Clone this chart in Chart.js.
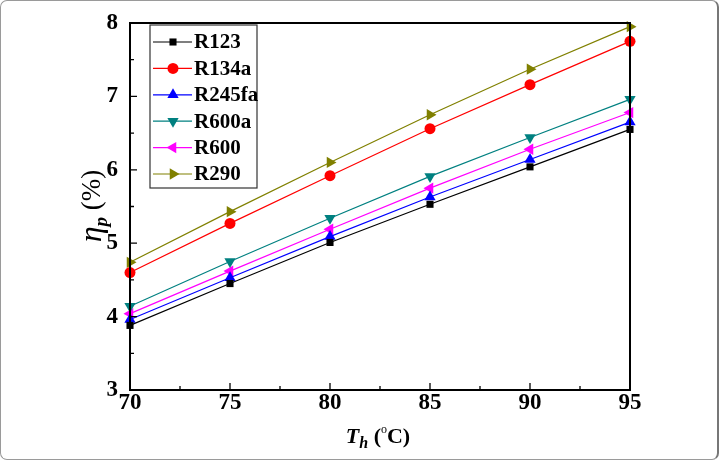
<!DOCTYPE html>
<html>
<head>
<meta charset="utf-8">
<script src="https://cdn.jsdelivr.net/npm/chart.js@4.4.1/dist/chart.umd.min.js"></script>
<style>
  html, body { margin: 0; padding: 0; background: #fff; }
  #frame {
    width: 719px; height: 460px; box-sizing: border-box;
    border: 1px solid #9a9a9a; border-right: 2px solid #777; border-radius: 7px;
    position: relative; overflow: hidden;
  }
  #chart { position: absolute; left: -1px; top: -1px; }
</style>
</head>
<body>
<div id="frame"><canvas id="chart" width="719" height="460"></canvas></div>
<script>
  // Temperature of heat source (°C)
  const temps = [70, 75, 80, 85, 90, 95];

  // eta_p (%) per working fluid
  const r123   = [3.88, 4.45, 5.01, 5.53, 6.04, 6.55];
  const r134a  = [4.60, 5.27, 5.92, 6.56, 7.16, 7.75];
  const r245fa = [3.96, 4.53, 5.09, 5.63, 6.14, 6.65];
  const r600a  = [4.14, 4.75, 5.34, 5.91, 6.44, 6.96];
  const r600   = [4.04, 4.62, 5.19, 5.75, 6.28, 6.78];
  const r290   = [4.74, 5.43, 6.10, 6.75, 7.37, 7.95];

  const seriesNames = ['R123', 'R134a', 'R245fa', 'R600a', 'R600', 'R290'];
  const seriesData = [r123, r134a, r245fa, r600a, r600, r290];
  const seriesColors = ['#000000', '#ff0000', '#0000ff', '#008080', '#ff00ff', '#808000'];
  const seriesStyles = ['rect', 'circle', 'triangle', 'triangle', 'triangle', 'triangle'];
  const seriesRotation = [0, 0, 0, 180, 270, 90];

  const xTicks = [70, 75, 80, 85, 90, 95];
  const yTicks = [3, 4, 5, 6, 7, 8];

  const serif = '"Liberation Serif", "DejaVu Serif", serif';

  function markerRadius(style) {
    if (style === 'rect') return 5;
    if (style === 'circle') return 5.5;
    return 6.5;
  }

  const datasets = seriesNames.map(function(name, i) {
    return {
      label: name,
      data: temps.map(function(t, j) { return { x: t, y: seriesData[i][j] }; }),
      borderColor: seriesColors[i],
      backgroundColor: seriesColors[i],
      borderWidth: 1.2,
      pointStyle: seriesStyles[i],
      pointRotation: seriesRotation[i],
      pointRadius: markerRadius(seriesStyles[i]),
      pointBorderWidth: 0,
      tension: 0,
      clip: false
    };
  });

  // inward ticks, top/right frame, axis titles and inset legend
  const decorations = {
    id: 'decorations',
    afterDraw(chart) {
      const ctx = chart.ctx;
      const a = chart.chartArea;
      const xs = chart.scales.x, ys = chart.scales.y;
      ctx.save();
      ctx.strokeStyle = '#000';
      ctx.lineWidth = 2;
      ctx.strokeRect(a.left, a.top, a.right - a.left, a.bottom - a.top);

      ctx.lineWidth = 1.3;
      ctx.beginPath();
      for (let v = 70; v <= 95; v += 2.5) {
        const px = xs.getPixelForValue(v);
        const len = (v % 5 === 0) ? 7 : 4;
        ctx.moveTo(px, a.bottom);
        ctx.lineTo(px, a.bottom - len);
      }
      for (let v = 3; v <= 8; v += 0.5) {
        const py = ys.getPixelForValue(v);
        const len = (v % 1 === 0) ? 7 : 4;
        ctx.moveTo(a.left, py);
        ctx.lineTo(a.left + len, py);
      }
      ctx.stroke();

      // x title: T_h (°C)
      ctx.fillStyle = '#000';
      ctx.textBaseline = 'alphabetic';
      const cx = (a.left + a.right) / 2;
      const by = 443;
      ctx.font = 'italic bold 22px ' + serif;
      const wT = ctx.measureText('T').width;
      ctx.font = 'italic bold 16px ' + serif;
      const wh = ctx.measureText('h').width;
      ctx.font = 'bold 22px ' + serif;
      const wRest = ctx.measureText(' (C)').width;
      ctx.font = '12px ' + serif;
      const wdeg = ctx.measureText('o').width;
      let x0 = cx - (wT + wh + wRest + wdeg) / 2 - 2;
      ctx.font = 'italic bold 22px ' + serif;
      ctx.fillText('T', x0, by); x0 += wT;
      ctx.font = 'italic bold 16px ' + serif;
      ctx.fillText('h', x0, by + 5); x0 += wh;
      ctx.font = 'bold 22px ' + serif;
      ctx.fillText(' (', x0, by); x0 += ctx.measureText(' (').width;
      ctx.font = '12px ' + serif;
      ctx.fillText('o', x0, by - 10); x0 += wdeg;
      ctx.font = 'bold 22px ' + serif;
      ctx.fillText('C)', x0, by);

      // y title: eta_p (%)
      ctx.save();
      ctx.translate(101, 206);
      ctx.rotate(-Math.PI / 2);
      ctx.font = 'italic 32px ' + serif;
      const wEta = ctx.measureText('η').width;
      ctx.font = 'italic bold 19px ' + serif;
      const wp = ctx.measureText('p').width;
      ctx.font = '27px ' + serif;
      const wPct = ctx.measureText(' (%)').width;
      let y0 = -(wEta + wp + wPct) / 2;
      ctx.font = 'italic 32px ' + serif;
      ctx.fillText('η', y0, 0); y0 += wEta;
      ctx.font = 'italic bold 19px ' + serif;
      ctx.fillText('p', y0, 6); y0 += wp;
      ctx.font = '27px ' + serif;
      ctx.fillText(' (%)', y0, -1);
      ctx.restore();

      // legend box
      const lx = 150, ly = 25, lw = 107, lh = 163;
      ctx.fillStyle = '#fff';
      ctx.fillRect(lx, ly, lw, lh);
      ctx.strokeStyle = '#333';
      ctx.lineWidth = 1.2;
      ctx.strokeRect(lx, ly, lw, lh);
      ctx.font = 'bold 21px ' + serif;
      ctx.textBaseline = 'middle';
      chart.data.datasets.forEach(function(ds, i) {
        const ry = ly + 17 + i * 26.4;
        ctx.strokeStyle = ds.borderColor;
        ctx.lineWidth = 1.2;
        ctx.beginPath();
        ctx.moveTo(lx + 3, ry);
        ctx.lineTo(lx + 42, ry);
        ctx.stroke();
        ctx.fillStyle = ds.backgroundColor;
        Chart.helpers.drawPoint(ctx, {
          pointStyle: ds.pointStyle,
          rotation: ds.pointRotation,
          radius: ds.pointRadius,
          borderWidth: 0
        }, lx + 23, ry);
        ctx.fillStyle = '#000';
        ctx.fillText(ds.label, lx + 44, ry + 1);
      });
      ctx.restore();
    }
  };

  new Chart(document.getElementById('chart'), {
    type: 'line',
    data: { datasets: datasets },
    options: {
      responsive: false,
      animation: false,
      devicePixelRatio: 1,
      layout: { padding: { left: 0, right: 89, top: 23, bottom: 0 } },
      plugins: { legend: { display: false }, tooltip: { enabled: false } },
      scales: {
        x: {
          type: 'linear',
          min: 70,
          max: 95,
          afterFit: function(scale) { scale.height = 70; },
          afterBuildTicks: function(scale) {
            scale.ticks = xTicks.map(function(v) { return { value: v }; });
          },
          grid: { display: false },
          border: { display: false },
          ticks: {
            color: '#000',
            padding: -9,
            maxRotation: 0,
            font: { family: serif, size: 23, weight: 'bold' }
          }
        },
        y: {
          min: 3,
          max: 8,
          afterFit: function(scale) { scale.width = 130; },
          afterBuildTicks: function(scale) {
            scale.ticks = yTicks.map(function(v) { return { value: v }; });
          },
          grid: { display: false },
          border: { display: false },
          ticks: {
            color: '#000',
            padding: 4,
            font: { family: serif, size: 23, weight: 'bold' }
          }
        }
      }
    },
    plugins: [decorations]
  });
</script>
</body>
</html>
